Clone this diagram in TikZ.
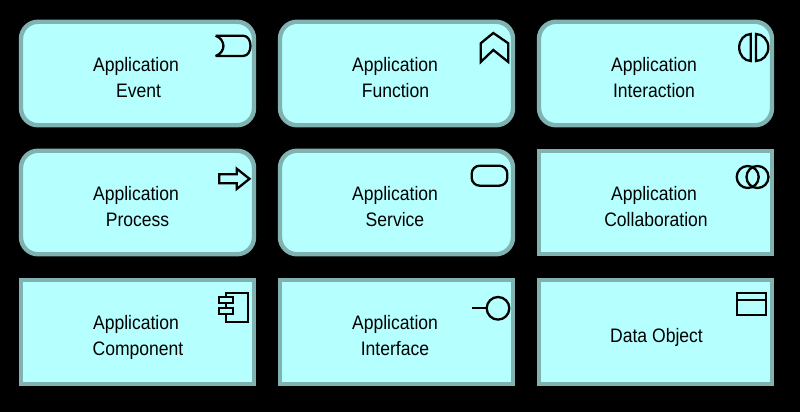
\documentclass[tikz,border=0pt]{standalone}
\usepackage{fontspec}
\setmainfont[FakeStretch=0.9]{Liberation Sans}
\definecolor{boxfill}{HTML}{B5FFFF}
\definecolor{boxline}{HTML}{7FB2B0}
\newcommand{\twolines}[2]{\strut #1\\\strut #2}
\tikzset{
  sqbox/.style={draw=boxline,fill=boxfill,line width=4.4pt,minimum width=233pt,minimum height=103.5pt,inner sep=0pt},
  rdbox/.style={sqbox,rounded corners=17pt},
  txt/.style={label={[xshift=-1.5pt,yshift=-5.6pt,inner sep=0pt,align=center,font=\fontsize{19.5pt}{26pt}\selectfont,text=black]center:{#1}}},
  icon/.style={draw=black,line width=2.3pt,line join=miter}
}
\begin{document}
\begin{tikzpicture}[x=1pt,y=-1pt]
   \fill[black] (0,0) rectangle (800,412);
   \useasboundingbox (0,0) rectangle (800,412);
   \node[rdbox,txt={\twolines{Application}{\hspace*{5pt}Event}}] (event) at (137.5,73.5) {};
   \node[rdbox,txt={\twolines{Application}{\hspace*{1pt}Function}}] (function) at (396.5,73.5) {};
   \node[rdbox,txt={\twolines{Application}{Interaction}}] (interaction) at (655.5,73.5) {};
   \node[rdbox,txt={\twolines{Application}{\hspace*{3pt}Process}}] (process) at (137.5,202.5) {};
   \node[rdbox,txt={\twolines{Application}{Service}}] (service) at (396.5,202.5) {};
   \node[sqbox,txt={\twolines{Application}{\hspace*{4pt}Collaboration}}] (collab) at (655.5,202.5) {};
   \node[sqbox,txt={\twolines{Application}{\hspace*{4pt}Component}}] (component) at (137.5,332) {};
   \node[sqbox,txt={\twolines{Application}{Interface}}] (interface) at (396.5,332) {};
   \node[sqbox,txt={\strut\hspace*{5pt}Data Object}] (dataobj) at (655.5,332) {};
   % icons
   \draw[icon,line join=bevel] (215.7,35.7)--(243,35.7) .. controls (253,35.7) and (253,56) .. (243,56)--(215.7,56)
      .. controls (226,52) and (226,40) .. (215.7,35.7);
   \draw[icon] (493.3,33)--(508.3,43.3)--(508.3,62)--(493.3,50)--(480.7,62)--(480.7,43.3)--cycle;
   \draw[icon] (750.7,34) arc (270:90:11.5 and 13.5) -- cycle;
   \draw[icon] (756,34) arc (-90:90:12.3 and 13.5) -- cycle;
   \draw[icon] (219.3,174.3)--(236.7,174.3)--(236.7,168.7)--(249.5,178.8)--(236.7,189)--(236.7,183.3)--(219.3,183.3)--cycle;
   \draw[icon,rounded corners=8pt] (471.7,165.7) rectangle (507.3,185.7);
   \draw[icon] (747.7,177) circle (11);
   \draw[icon] (757.5,177) circle (11);
   \draw[icon] (226,292.7) rectangle (248.3,321.7);
   \draw[icon,fill=boxfill] (219.3,296.7) rectangle (232.7,303.3);
   \draw[icon,fill=boxfill] (219.3,308.3) rectangle (232.7,314.3);
   \draw[icon] (472.3,308.3)--(486.7,308.3);
   \draw[icon] (498,308.3) circle (11.3);
   \draw[icon] (736.7,292.7) rectangle (766,315);
   \draw[icon] (736.7,300)--(766,300);
\end{tikzpicture}
\end{document}
